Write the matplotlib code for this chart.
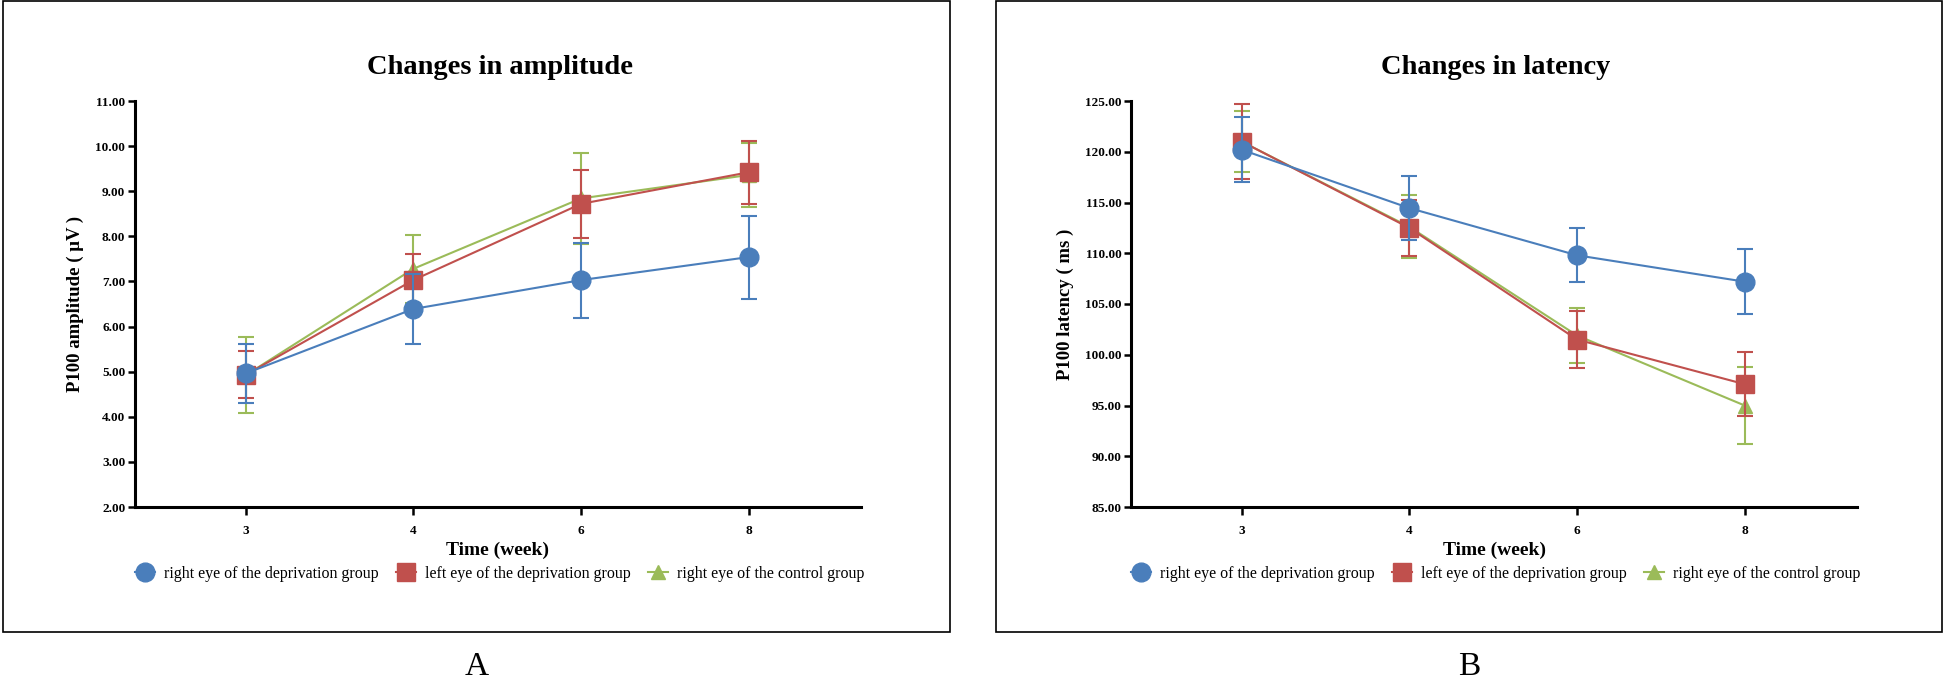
import numpy as np
import matplotlib
matplotlib.use("Agg")
import matplotlib.pyplot as plt
from matplotlib.patches import Rectangle

plt.rcParams['font.family'] = ['Liberation Serif', 'DejaVu Serif']

weeks = ["3", "4", "6", "8"]
labels = ["right eye of the deprivation group",
          "left eye of the deprivation group",
          "right eye of the control group"]
colors = ["#4A7EBB", "#C0504D", "#9BBB59"]
markers = ["o", "s", "^"]
msizes = [13.5, 12.5, 10]

# amplitude (uV): mean and sd per group
amp_mean = [[4.96, 6.39, 7.03, 7.54],
            [4.93, 7.03, 8.72, 9.42],
            [4.92, 7.28, 8.84, 9.36]]
amp_sd = [[0.65, 0.78, 0.83, 0.92],
          [0.52, 0.58, 0.75, 0.70],
          [0.84, 0.76, 1.00, 0.70]]

# latency (ms)
lat_mean = [[120.2, 114.45, 109.8, 107.2],
            [121.0, 112.5, 101.5, 97.1],
            [121.0, 112.6, 101.9, 95.0]]
lat_sd = [[3.2, 3.13, 2.65, 3.2],
          [3.67, 2.75, 2.8, 3.15],
          [3.0, 3.1, 2.75, 3.8]]

W, H = 1944, 679
fig = plt.figure(figsize=(W / 100, H / 100), dpi=100)


def panel(x0, title, ylabel, means, sds, ylim, yticks, letter, frame_x, frame_w):
    ax = fig.add_axes([x0 / W, (H - 507) / H, 726 / W, 406 / H])
    x = np.arange(len(weeks))
    handles = []
    for i in [2, 1, 0]:
        eb = ax.errorbar(x, means[i], yerr=sds[i], color=colors[i], marker=markers[i],
                         markersize=msizes[i], linewidth=1.5, elinewidth=1.5,
                         capsize=5.5, capthick=1.5, label=labels[i], zorder=3 + (2 - i))
        handles.append(eb[0])
    handles = handles[::-1]
    ax.set_xlim(-0.66, 3.67)
    ax.set_ylim(*ylim)
    ax.set_xticks(x)
    ax.set_xticklabels(weeks)
    ax.set_yticks(yticks)
    ax.set_yticklabels(["%.2f" % v for v in yticks])
    for s in ["top", "right"]:
        ax.spines[s].set_visible(False)
    for s in ["left", "bottom"]:
        ax.spines[s].set_linewidth(2.2)
    ax.tick_params(width=1.8, length=5, labelsize=9.5, direction="out", pad=2)
    ax.tick_params(axis="x", length=6, pad=7)
    for lab in ax.get_xticklabels() + ax.get_yticklabels():
        lab.set_fontweight("bold")
    ax.set_xlabel("Time (week)", fontsize=14, fontweight="bold", labelpad=3)
    ax.set_ylabel(ylabel, fontsize=13.5, fontweight="bold", labelpad=8)

    cx = x0 + 365
    fig.text(cx / W, (H - 67) / H, title, fontsize=20.5, fontweight="bold",
             ha="center", va="center")
    fig.legend(handles, labels, loc="center", ncol=3,
               bbox_to_anchor=(cx / W, (H - 574) / H), frameon=False,
               fontsize=11.5, handlelength=1.2, handletextpad=0.6,
               columnspacing=1.1)
    fig.text((frame_x + frame_w / 2) / W, 0.018, letter, fontsize=24,
             ha="center", va="center")
    fig.patches.append(Rectangle((frame_x / W, (H - 632) / H), frame_w / W, 631 / H,
                                 transform=fig.transFigure, fill=False,
                                 edgecolor="black", linewidth=1.2))
    return ax


panel(135, "Changes in amplitude", "P100 amplitude ( μV )", amp_mean, amp_sd,
      (2, 11), np.arange(2, 11.5, 1.0), "A", 3, 947)
panel(1131, "Changes in latency", "P100 latency ( ms )", lat_mean, lat_sd,
      (85, 125), np.arange(85, 126, 5.0), "B", 996, 946)

fig.savefig("out.png", dpi=100)
